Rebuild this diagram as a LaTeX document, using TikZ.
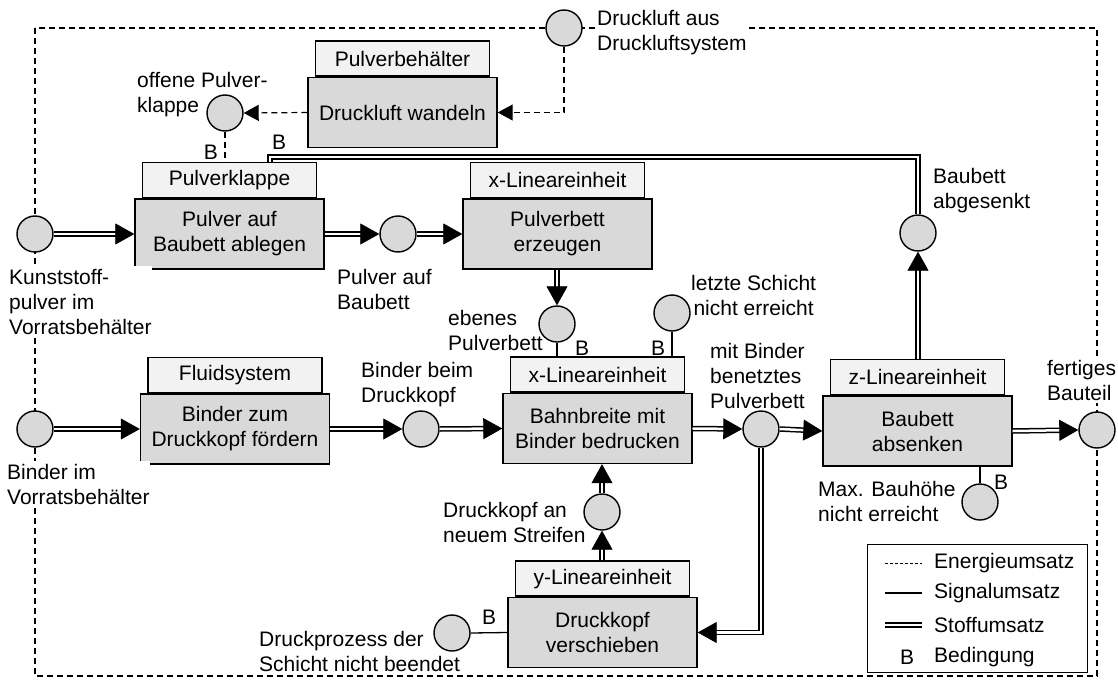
\documentclass[tikz,border=0pt]{standalone}
\usepackage{fontspec}
\setmainfont{Liberation Sans}
\usetikzlibrary{arrows.meta}
\definecolor{mainfill}{RGB}{217,217,217}
\definecolor{headfill}{RGB}{242,242,242}
\newcommand{\stoffarrow}[1]{%
  \draw[stoff, shorten >=17pt] #1;
  \draw[tiponly] #1;}
\begin{document}
\begin{tikzpicture}[x=1pt,y=-1pt, font=\fontsize{21}{25}\selectfont,
 fn/.style={draw, line width=1.4pt, fill=mainfill, minimum width=189pt, minimum height=70pt, align=center, inner sep=0pt},
 hd/.style={draw, line width=1.4pt, fill=headfill, minimum width=174pt, minimum height=35pt, inner sep=0pt, anchor=south},
 st/.style={draw, circle, line width=1.4pt, fill=mainfill, minimum size=36pt, inner sep=0pt},
 lbl/.style={align=left, anchor=west, inner sep=0pt},
 wlbl/.style={align=left, anchor=west, inner xsep=0pt, inner ysep=3pt, fill=white},
 energy/.style={line width=1.2pt, dash pattern=on 6pt off 4pt},
 signal/.style={line width=1.3pt},
 stoff/.style={double, double distance=2.5pt, line width=1.5pt},
 tiponly/.style={draw=white, line width=0.8pt, -{Triangle[length=19pt,width=21pt,black]}},
 earr/.style={-{Triangle[length=15pt,width=16pt]}},
 cond/.style={inner sep=0pt}
]
\useasboundingbox (0,0) rectangle (1118,682);
% energy frame
\draw[energy] (35,28) rectangle (1097,676);

% function boxes
\node[fn] (f1) at (402.5,112.5) {Druckluft wandeln};
\node[hd] (h1) at (f1.north) {Pulverbehälter};
\node[fn] (f2) at (229.5,234) {Pulver auf\\Baubett ablegen};
\node[hd] (h2) at (f2.north) {Pulverklappe};
\node[fn] (f3) at (557.5,234) {Pulverbett\\erzeugen};
\node[hd] (h3) at (f3.north) {x-Lineareinheit};
\node[fn] (f4) at (597.5,428.5) {Bahnbreite mit\\Binder bedrucken};
\node[hd] (h4) at (f4.north) {x-Lineareinheit};
\node[fn] (f5) at (235,429) {Binder zum\\Druckkopf fördern};
\node[hd] (h5) at (f5.north) {Fluidsystem};
\node[fn] (f6) at (602.5,632.5) {Druckkopf\\verschieben};
\node[hd] (h6) at (f6.north) {y-Lineareinheit};
\node[fn] (f7) at (917.5,431) {Baubett\\absenken};
\node[hd] (h7) at (f7.north) {z-Lineareinheit};

% labels with white background (over the frame)
\node[wlbl] (l-druck) at (597,32.5) {Druckluft aus\\Druckluftsystem};
\node[wlbl] (l-kunst) at (9,302) {Kunststoff-\\pulver im\\Vorratsbehälter};
\node[wlbl] (l-binderim) at (7,484.5) {Binder im\\Vorratsbehälter};
\node[wlbl] (l-fertig) at (1047,380) {fertiges\\Bauteil};

% states
\node[st] (c-druck) at (564,28) {};
\node[st] (c-offen) at (225,113) {};
\node[st] (c-kunst) at (35,234) {};
\node[st] (c-pab) at (398,234) {};
\node[st] (c-eben) at (557,324) {};
\node[st] (c-letzt) at (672,313) {};
\node[st] (c-abges) at (918,233) {};
\node[st] (c-binderim) at (35,429) {};
\node[st] (c-beim) at (421,429) {};
\node[st] (c-benetzt) at (761,429) {};
\node[st] (c-fertig) at (1097,430) {};
\node[st] (c-maxb) at (980,502) {};
\node[st] (c-streif) at (602,512) {};
\node[st] (c-dp) at (452,633) {};

% other labels
\node[lbl] (l-offen) at (137,95) {offene Pulver-\\klappe};
\node[lbl] (l-pab) at (337,289.5) {Pulver auf\\Baubett};
\node[lbl] (l-eben) at (448,330) {ebenes\\Pulverbett};
\node[align=center, anchor=west, inner sep=0pt] (l-letzt) at (691,295) {letzte Schicht\\nicht erreicht};
\node[lbl] (l-abges) at (933,191) {Baubett\\abgesenkt};
\node[lbl] (l-beim) at (361,385) {Binder beim\\Druckkopf};
\node[lbl] (l-benetzt) at (710,376) {mit Binder\\benetztes\\Pulverbett};
\node[lbl] (l-streif) at (443,522.5) {Druckkopf an\\neuem Streifen};
\node[lbl] (l-dp) at (259,651.5) {Druckprozess der\\Schicht nicht beendet};
\node[lbl] (l-maxb) at (818,501) {Max. Bauhöhe\\nicht erreicht};

% energy connectors
\draw[energy,earr] (c-druck.south) |- (f1.east);
\draw[energy,earr] (f1.west) -- (c-offen.east);
\draw[energy] (c-offen.south) -- (c-offen.south |- h2.north);

% material connectors
\coordinate (k1) at (270,157);
\stoffarrow{(c-kunst.east) -- (f2.west)}
\stoffarrow{(f2.east) -- (c-pab.west)}
\stoffarrow{(c-pab.east) -- (f3.west)}
\stoffarrow{(c-eben.north |- f3.south) -- (c-eben.north)}
\stoffarrow{(c-binderim.east) -- (f5.west)}
\stoffarrow{(f5.east) -- (c-beim.west)}
\stoffarrow{(c-beim.east) -- (f4.west)}
\stoffarrow{(f4.east) -- (c-benetzt.west)}
\stoffarrow{(c-benetzt.east) -- (f7.west)}
\stoffarrow{(f7.east) -- (c-fertig.west)}
\stoffarrow{(c-abges.south |- h7.north) -- (c-abges.south)}
\draw[stoff] (c-abges.north) |- (k1) -- (k1 |- h2.north);
\stoffarrow{(c-benetzt.south) |- (f6.east)}
\stoffarrow{(c-streif.south |- h6.north) -- (c-streif.south)}
\stoffarrow{(c-streif.north) -- (c-streif.north |- f4.south)}

% signal connectors
\draw[signal] (c-eben.south) -- (c-eben.south |- h4.north);
\draw[signal] (c-letzt.south) -- (c-letzt.south |- h4.north);
\draw[signal] (c-maxb.north) -- (c-maxb.north |- f7.south);
\draw[signal] (c-dp.east) -- (f6.west);

% condition marks
\node[cond] (b1) at (211,152) {B};
\node[cond] (b2) at (279,142) {B};
\node[cond] (b3) at (582,348) {B};
\node[cond] (b4) at (658,348) {B};
\node[cond] (b5) at (1001,482) {B};
\node[cond] (b6) at (489,617) {B};

% legend
\node[draw, line width=1.4pt, minimum width=220pt, minimum height=128pt, anchor=north west, inner sep=0pt] (leg) at (867,544) {};
\coordinate (e1a) at (885,563); \coordinate (e1b) at (922,563);
\coordinate (e2a) at (885,593); \coordinate (e2b) at (922,593);
\coordinate (e3a) at (885,625); \coordinate (e3b) at (922,625);
\draw[line width=1pt, dash pattern=on 3pt off 2pt] (e1a) -- (e1b);
\draw[signal] (e2a) -- (e2b);
\draw[stoff] (e3a) -- (e3b);
\node[lbl] (t1) at (934,563) {Energieumsatz};
\node[lbl] (t2) at (934,593) {Signalumsatz};
\node[lbl] (t3) at (934,625) {Stoffumsatz};
\node[cond] (t4b) at (907,657) {B};
\node[lbl] (t4) at (934,657) {Bedingung};
\end{tikzpicture}
\end{document}
